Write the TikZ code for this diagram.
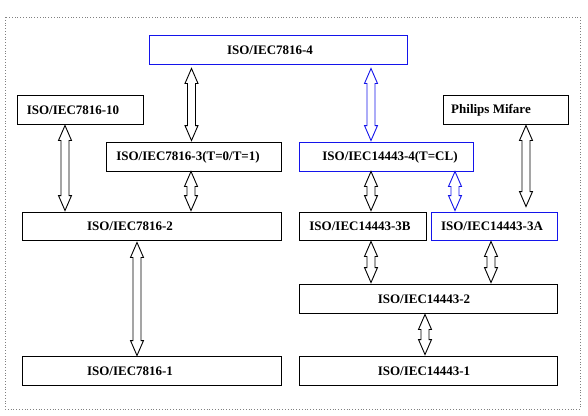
\documentclass[tikz,border=0pt]{standalone}
\usepackage{fontspec}
\setmainfont{Liberation Serif}
\usetikzlibrary{calc}
\definecolor{bblue}{RGB}{20,20,235}
\tikzset{
  box/.style={draw=black, line width=0.9pt, inner sep=0pt, minimum height=29pt, fill=white},
  bluebox/.style={box, draw=bblue},
  lbl/.style={font=\fontsize{13}{15}\selectfont\bfseries, inner sep=0pt},
  barr/.style={draw=black, line width=0.9pt, fill=white, line join=miter},
  bluearr/.style={barr, draw=bblue}
}
% #1 style, #2 upper node, #3 lower node, #4 x, #5 top gap, #6 bottom gap
\newcommand\blockarr[6]{%
  \draw[#1] let \p1=(#2.south), \p2=(#3.north), \p3=(#4,0) in
    (\x3,\y1-#5pt) -- (\x3+6.5pt,\y1-#5pt-15pt) -- (\x3+4pt,\y1-#5pt-15pt)
    -- (\x3+4pt,\y2+#6pt+15pt) -- (\x3+6.5pt,\y2+#6pt+15pt) -- (\x3,\y2+#6pt)
    -- (\x3-6.5pt,\y2+#6pt+15pt) -- (\x3-4pt,\y2+#6pt+15pt)
    -- (\x3-4pt,\y1-#5pt-15pt) -- (\x3-6.5pt,\y1-#5pt-15pt) -- cycle;}
\begin{document}
\begin{tikzpicture}[x=1pt,y=-1pt]
\useasboundingbox (0,0) rectangle (588,415);
\draw[dotted, gray, line width=0.8pt] (5,17) rectangle (580,409);
% boxes
\node[bluebox, minimum width=258pt] (n4) at (278,49.5) {};
\node[box, minimum width=126pt] (n10) at (80,109.5) {};
\node[box, minimum width=175pt] (n3) at (193.5,156.5) {};
\node[bluebox, minimum width=174pt] (c4) at (386,156.5) {};
\node[box, minimum width=125pt] (pm) at (505.5,109.5) {};
\node[box, minimum width=259pt, minimum height=28pt] (n2) at (151.5,226) {};
\node[box, minimum width=259pt] (n1) at (151.5,370.5) {};
\node[box, minimum width=127pt, minimum height=28pt] (c3b) at (362.5,226) {};
\node[bluebox, minimum width=126pt, minimum height=28pt] (c3a) at (494,226) {};
\node[box, minimum width=258pt] (c2) at (428,298.5) {};
\node[box, minimum width=258pt] (c1) at (428,370.5) {};
% labels
\node[lbl] (t4) at (270,50) {ISO/IEC7816-4};
\node[lbl] (t10) at (73,110) {ISO/IEC7816-10};
\node[lbl] (t3) at (188,157) {ISO/IEC7816-3(T=0/T=1)};
\node[lbl] (tc4) at (390,157) {ISO/IEC14443-4(T=CL)};
\node[lbl] (tpm) at (491,110) {Philips Mifare};
\node[lbl] (t2) at (130,226.5) {ISO/IEC7816-2};
\node[lbl] (t1) at (130,371) {ISO/IEC7816-1};
\node[lbl] (tc3b) at (360,226.5) {ISO/IEC14443-3B};
\node[lbl] (tc3a) at (492,226.5) {ISO/IEC14443-3A};
\node[lbl] (tc2) at (424,299) {ISO/IEC14443-2};
\node[lbl] (tc1) at (424,371) {ISO/IEC14443-1};
% arrows
\blockarr{barr}{n4}{n3}{191.5}{4}{1}
\blockarr{barr}{n10}{n2}{65}{1}{1}
\blockarr{barr}{n3}{n2}{191}{0}{1}
\blockarr{barr}{n2}{n1}{137}{2}{0}
\blockarr{bluearr}{n4}{c4}{371}{4}{1}
\blockarr{barr}{c4}{c3b}{371}{0}{1}
\blockarr{bluearr}{c4}{c3a}{455}{0}{1}
\blockarr{barr}{pm}{c3a}{526}{1}{5}
\blockarr{barr}{c3b}{c2}{371}{1}{1}
\blockarr{barr}{c3a}{c2}{491}{1}{1}
\blockarr{barr}{c2}{c1}{425}{1}{1}
\end{tikzpicture}
\end{document}
